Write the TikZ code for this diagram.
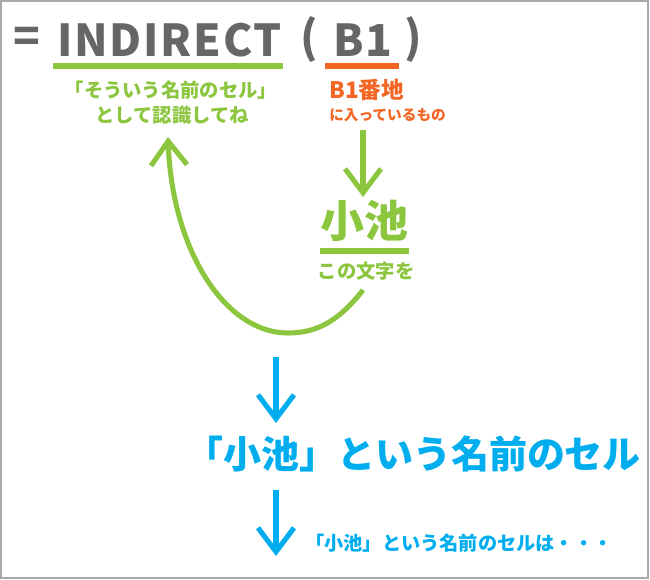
\documentclass[tikz,border=0pt]{standalone}
\usepackage{fontspec}
\setmainfont{Noto Sans CJK JP}
\usepackage{tikz}
\usetikzlibrary{arrows.meta, positioning, calc}

\definecolor{fgray}{HTML}{666666}
\definecolor{fgreen}{HTML}{8CC63F}
\definecolor{forange}{HTML}{F26522}
\definecolor{fblue}{HTML}{00AEEF}
\definecolor{frame}{HTML}{AAAAAA}

\begin{document}
\begin{tikzpicture}[
  x=0.75pt, y=-0.75pt,
  txt/.style={inner sep=0pt, font=\bfseries},
  formula/.style={txt, text=fgray, font=\fontsize{33}{36}\selectfont\bfseries\addfontfeature{LetterSpace=4}},
  bar/.style={line width=4.5pt},
  arr/.style={-{Straight Barb[length=18pt, width=27pt]}, line width=3.8pt, line join=miter},
]
\useasboundingbox (0,0) rectangle (650,580);
\draw[frame, line width=1.2pt] (1,1) rectangle (648,578);

% Row 1: the formula
\node[formula, anchor=west] (eq) at (13,40) {=};
\node[formula, anchor=west] (func) at (57,40) {INDIRECT};
\node[formula, anchor=west] (lpar) at (300,40) {(};
\node[formula, anchor=west] (ref) at (333,40) {B1};
\node[formula, anchor=west] (rpar) at (404,40) {)};

% underlines
\draw[bar, fgreen] (53,66) -- (283,66);
\draw[bar, forange] (325,66) -- (399,66);

% Row 2: notes under the formula
\node[txt, text=fgreen, font=\fontsize{14.5}{16}\selectfont\bfseries] (sono) at (171,90) {「そういう名前のセル」};
\node[txt, text=fgreen, font=\fontsize{14.5}{16}\selectfont\bfseries] (nin) at (172,115) {として認識してね};
\node[txt, text=forange, font=\fontsize{17}{19}\selectfont\bfseries, anchor=west] (banchi) at (329,90) {B1番地};
\node[txt, text=forange, font=\fontsize{11}{13}\selectfont\bfseries, anchor=west] (haitte) at (329,115) {に入っているもの};

% Row 3: the value
\node[txt, text=fgreen, font=\fontsize{33}{35}\selectfont\bfseries] (koike) at (364,221) {小池};
\draw[bar, fgreen] (320,251) -- (409,251);
\node[txt, text=fgreen, font=\fontsize{14.5}{16}\selectfont\bfseries] (moji) at (366,271) {この文字を};

% Row 4: the result
\node[txt, text=fblue, font=\fontsize{28.5}{30}\selectfont\bfseries] (cell) at (413,454) {「小池」という名前のセル};
\node[txt, text=fblue, font=\fontsize{14.4}{16}\selectfont\bfseries, anchor=west] (cellwa) at (305,543) {「小池」という名前のセルは・・・};

% Arrows
\coordinate (b1to) at (363,130);
\coordinate (bottom) at (288,333);
\coordinate (d1) at (276,357);
\coordinate (d1end) at (276,423);
\coordinate (d2) at (276,490);
\coordinate (d2end) at (276,556);
\draw[arr, fgreen] (b1to) -- (363,197);
\draw[arr, fgreen] (363,290) .. controls (338,322) and (316,333) .. (bottom)
  .. controls (225,333) and (172,250) .. (168,137);
\draw[arr, fblue] (d1) -- (d1end);
\draw[arr, fblue] (d2) -- (d2end);

\end{tikzpicture}
\end{document}
